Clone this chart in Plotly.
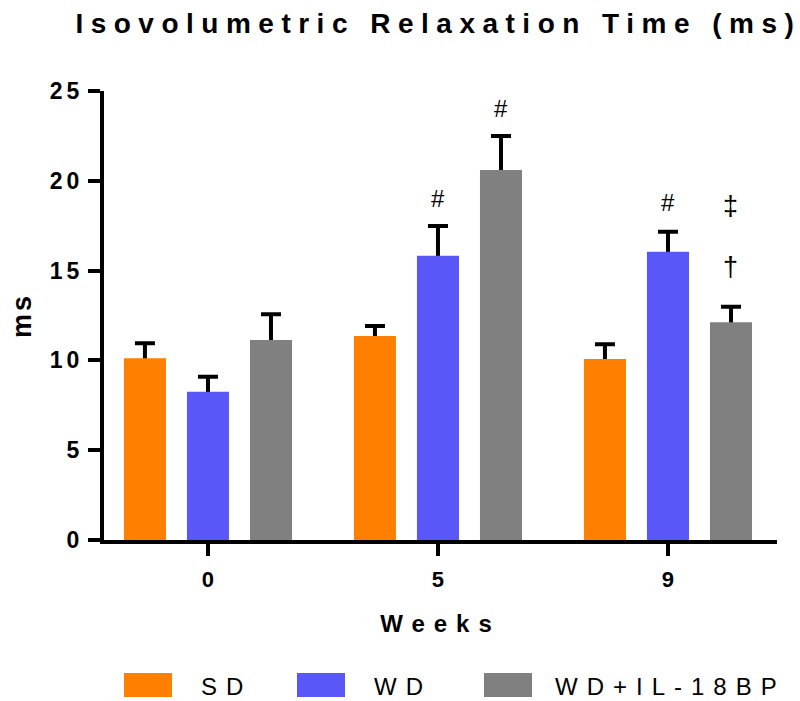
import plotly.graph_objects as go

weeks = ["0", "5", "9"]
groups = ["SD", "WD", "WD+IL-18BP"]
sd_mean = [10.12, 11.36, 10.08]
sd_err = [0.83, 0.56, 0.82]
wd_mean = [8.26, 15.83, 16.05]
wd_err = [0.83, 1.65, 1.12]
il_mean = [11.14, 20.6, 12.12]
il_err = [1.43, 1.89, 0.87]
colors = ["#FF8000", "#5957F8", "#808080"]

# significance marks: (week, group index, y position, symbol)
sig_week = ["5", "5", "9", "9", "9"]
sig_group = [1, 2, 1, 2, 2]
sig_y = [19.0, 24.0, 18.8, 18.6, 15.2]
sig_text = ["#", "#", "#", "‡", "†"]

FONT = "Arial, 'Liberation Sans', sans-serif"

means = [sd_mean, wd_mean, il_mean]
errs = [sd_err, wd_err, il_err]

fig = go.Figure()
# error bars first (transparent bars), so the real bars hide the lower half
for name, m, e in zip(groups, means, errs):
    fig.add_trace(go.Bar(
        x=weeks, y=m, name=name + " SEM", offsetgroup=name,
        marker=dict(color="rgba(0,0,0,0)", line=dict(width=0)),
        error_y=dict(type="data", array=e, symmetric=True,
                     color="black", thickness=4, width=10),
        showlegend=False, hoverinfo="skip",
    ))
for name, m, c in zip(groups, means, colors):
    fig.add_trace(go.Bar(
        x=weeks, y=m, name=name, offsetgroup=name,
        marker=dict(color=c, line=dict(width=0)),
        showlegend=False,
    ))

L, R, T, B = 104, 23, 91, 161
W, H = 800, 701
pw, ph = W - L - R, H - T - B

def px_x(p):
    return (p - L) / pw

def px_y(p):
    return (H - B - p) / ph

annotations = []
# legend (indices 0..2)
leg_sq = [(124, 172), (297, 345), (484, 532)]
leg_tx = [199, 372, 553]
shapes = []
for (x0, x1), tx, name, c in zip(leg_sq, leg_tx, groups, colors):
    shapes.append(dict(type="rect", xref="paper", yref="paper",
                       x0=px_x(x0), x1=px_x(x1), y0=px_y(697), y1=px_y(673),
                       fillcolor=c, line=dict(width=0)))
    annotations.append(dict(text=name, xref="paper", yref="paper",
                            x=px_x(tx), y=px_y(686), xanchor="left", yanchor="middle",
                            align="left", showarrow=False,
                            font=dict(family=FONT, size=24, color="black")))

offsets = [-63, 0, 63]
for wk, g, yv, t in zip(sig_week, sig_group, sig_y, sig_text):
    annotations.append(dict(text=t, x=weeks.index(wk), y=yv, xref="x", yref="y",
                            xshift=offsets[g], yanchor="middle", showarrow=False,
                            font=dict(family=FONT, size=24 if t == "#" else 27,
                                      color="black")))

fig.update_layout(
    width=W, height=H,
    margin=dict(l=L, r=R, t=T, b=B),
    paper_bgcolor="white", plot_bgcolor="white",
    barmode="group", bargap=0.178, bargroupgap=0.333,
    title=dict(text="<b>Isovolumetric Relaxation Time (ms)</b>", x=0.548, xanchor="center",
               y=1 - 23 / H, yanchor="middle", yref="container",
               font=dict(family=FONT, size=28, color="black")),
    xaxis=dict(type="category", range=[-0.452, 2.474], showline=True, linewidth=4,
               linecolor="black",
               ticks="outside", ticklen=12, tickwidth=4, tickcolor="black",
               ticklabelstandoff=5,
               showgrid=False, zeroline=False,
               tickfont=dict(family=FONT, size=22, color="black", weight="bold"),
               title=dict(text="<b>Weeks</b>", standoff=25,
                          font=dict(family=FONT, size=24, color="black"))),
    yaxis=dict(range=[0, 25], dtick=5, showline=True, linewidth=4, linecolor="black",
               ticks="outside", ticklen=12, tickwidth=4, tickcolor="black",
               showgrid=False, zeroline=False,
               tickfont=dict(family=FONT, size=23, color="black", weight="bold"),
               title=dict(text="<b>ms</b>", standoff=19,
                          font=dict(family=FONT, size=27, color="black"))),
    shapes=shapes,
    annotations=annotations,
)

css = (
    ".gtitle{letter-spacing:7.5px}"
    ".xtitle{letter-spacing:9px}"
    ".ytitle{letter-spacing:3px}"
    ".ytick text{letter-spacing:4px}"
    ".annotation[data-index='0'] .annotation-text,"
    ".annotation[data-index='1'] .annotation-text,"
    ".annotation[data-index='2'] .annotation-text{letter-spacing:9px}"
)
post = "var s=document.createElement('style');s.textContent=\"" + css + "\";document.head.appendChild(s);"

fig.write_html("out.html", post_script=post)
